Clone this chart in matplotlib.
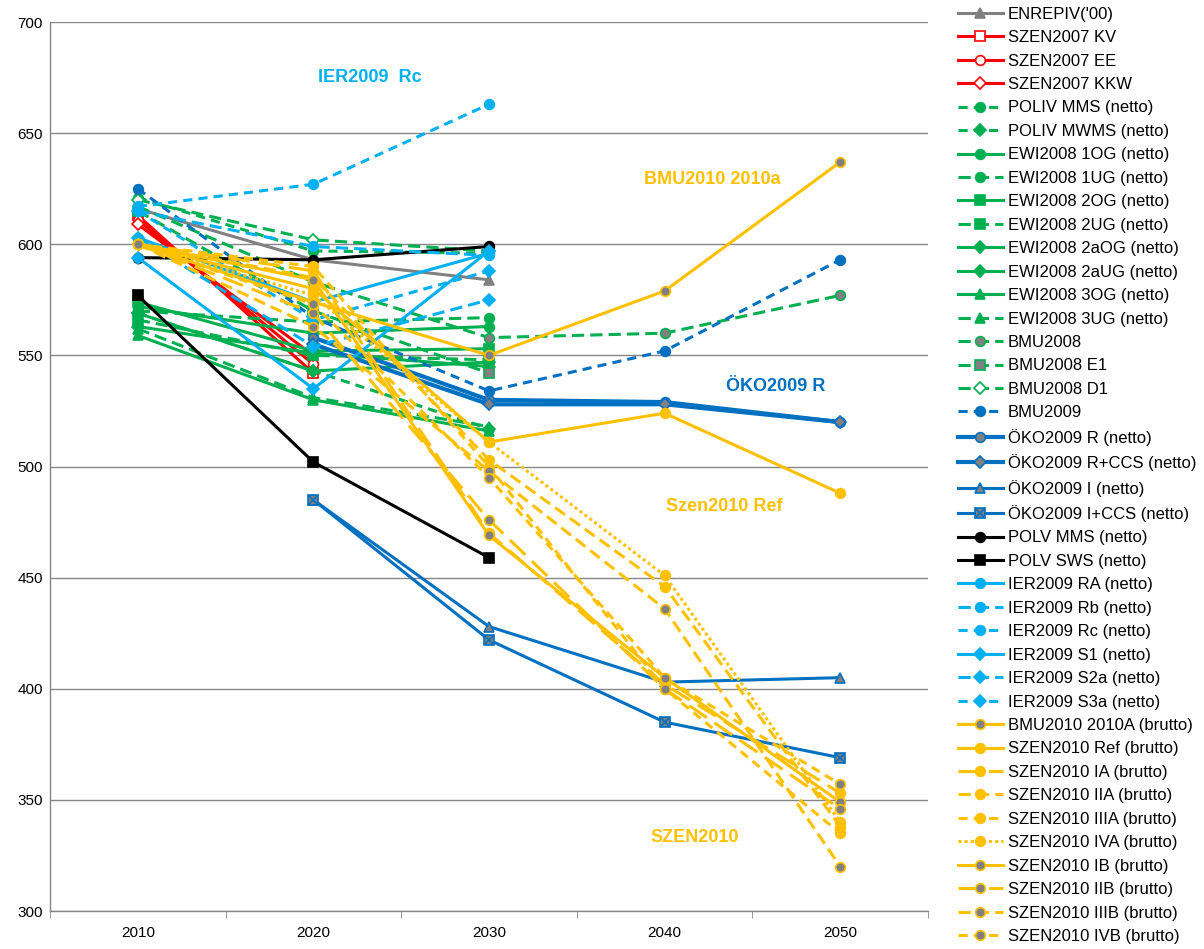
import numpy as np
import matplotlib
matplotlib.use("Agg")
import matplotlib.pyplot as plt

plt.rcParams['font.family'] = ['Liberation Sans', 'DejaVu Sans']

# ==========================================================
# DATA  (g CO2 / kWh)
# ==========================================================
years = ['2010', '2020', '2030', '2040', '2050']
nan = np.nan

enrepiv_00      = [616, 593, 584, nan, nan]
szen2007_kv     = [613, 542, nan, nan, nan]
szen2007_ee     = [611, 546, nan, nan, nan]
szen2007_kkw    = [609, 550, nan, nan, nan]
poliv_mms       = [621, 597, 596, nan, nan]
poliv_mwms      = [569, 543, 517, nan, nan]
ewi_1og         = [572, 560, 563, nan, nan]
ewi_1ug         = [570, 565, 567, nan, nan]
ewi_2og         = [574, 552, 553, nan, nan]
ewi_2ug         = [566, 550, 548, nan, nan]
ewi_2aog        = [569, 543, 547, nan, nan]
ewi_2aug        = [563, 551, 545, nan, nan]
ewi_3og         = [559, 530, 516, nan, nan]
ewi_3ug         = [562, 531, 518, nan, nan]
bmu2008         = [617, 583, 558, 560, 577]
bmu2008_e1      = [615, 570, 542, nan, nan]
bmu2008_d1      = [620, 602, 597, nan, nan]
bmu2009         = [625, 567, 534, 552, 593]
oeko_r          = [nan, 558, 530, 529, 520]
oeko_r_ccs      = [nan, 555, 528, 528, 520]
oeko_i          = [nan, 485, 428, 403, 405]
oeko_i_ccs      = [nan, 485, 422, 385, 369]
polv_mms        = [594, 593, 599, nan, nan]
polv_sws        = [577, 502, 459, nan, nan]
ier_ra          = [603, 574, 596, nan, nan]
ier_rb          = [615, 599, 595, nan, nan]
ier_rc          = [617, 627, 663, nan, nan]
ier_s1          = [594, 535, 597, nan, nan]
ier_s2a         = [603, 554, 575, nan, nan]
ier_s3a         = [615, 566, 588, nan, nan]
bmu2010_a       = [600, 574, 550, 579, 637]
szen2010_ref    = [600, 580, 511, 524, 488]
szen2010_ia     = [600, 588, 470, 402, 353]
szen2010_iia    = [600, 585, 503, 446, 338]
szen2010_iiia   = [600, 590, 500, 400, 335]
szen2010_iva    = [600, 577, 511, 451, 340]
szen2010_ib     = [600, 584, 469, 405, 349]
szen2010_iib    = [600, 569, 476, 400, 346]
szen2010_iiib   = [600, 563, 498, 436, 320]
szen2010_ivb    = [600, 573, 495, 405, 357]

# ==========================================================
# STYLES
# ==========================================================
GREY = '#808080'
RED = '#FF0000'
GREEN = '#00B050'
DBLUE = '#0070C0'
LBLUE = '#00B0F0'
YEL = '#FFC000'
BLACK = '#000000'

DASH = (4, 2)
SDASH = (3, 2)
LDASH = (7, 3)
DOT = (1, 1)

# label, data, color, dashes, marker, face, lw
series = [
    ("ENREPIV('00)", enrepiv_00, GREY, None, '^', GREY, 2.2),
    ("SZEN2007 KV", szen2007_kv, RED, None, 's', 'white', 2.2),
    ("SZEN2007 EE", szen2007_ee, RED, None, 'o', 'white', 2.2),
    ("SZEN2007 KKW", szen2007_kkw, RED, None, 'D', 'white', 2.2),
    ("POLIV MMS (netto)", poliv_mms, GREEN, SDASH, 'o', GREEN, 2.2),
    ("POLIV MWMS (netto)", poliv_mwms, GREEN, SDASH, 'D', GREEN, 2.2),
    ("EWI2008 1OG (netto)", ewi_1og, GREEN, None, 'o', GREEN, 2.2),
    ("EWI2008 1UG (netto)", ewi_1ug, GREEN, DASH, 'o', GREEN, 2.2),
    ("EWI2008 2OG (netto)", ewi_2og, GREEN, None, 's', GREEN, 2.2),
    ("EWI2008 2UG (netto)", ewi_2ug, GREEN, DASH, 's', GREEN, 2.2),
    ("EWI2008 2aOG (netto)", ewi_2aog, GREEN, None, 'D', GREEN, 2.2),
    ("EWI2008 2aUG (netto)", ewi_2aug, GREEN, None, 'D', GREEN, 2.2),
    ("EWI2008 3OG (netto)", ewi_3og, GREEN, None, '^', GREEN, 2.2),
    ("EWI2008 3UG (netto)", ewi_3ug, GREEN, DASH, '^', GREEN, 2.2),
    ("BMU2008", bmu2008, GREEN, DASH, 'o', GREY, 2.2),
    ("BMU2008 E1", bmu2008_e1, GREEN, DASH, 's', GREY, 2.2),
    ("BMU2008 D1", bmu2008_d1, GREEN, DASH, 'D', 'white', 2.2),
    ("BMU2009", bmu2009, DBLUE, SDASH, 'o', DBLUE, 2.2),
    ("ÖKO2009 R (netto)", oeko_r, DBLUE, None, 'o', GREY, 3.0),
    ("ÖKO2009 R+CCS (netto)", oeko_r_ccs, DBLUE, None, 'D', GREY, 3.0),
    ("ÖKO2009 I (netto)", oeko_i, DBLUE, None, '^', GREY, 2.2),
    ("ÖKO2009 I+CCS (netto)", oeko_i_ccs, DBLUE, None, 's', GREY, 2.2),
    ("POLV MMS (netto)", polv_mms, BLACK, None, 'o', BLACK, 2.2),
    ("POLV SWS (netto)", polv_sws, BLACK, None, 's', BLACK, 2.2),
    ("IER2009 RA (netto)", ier_ra, LBLUE, None, 'o', LBLUE, 2.2),
    ("IER2009 Rb (netto)", ier_rb, LBLUE, DASH, 'o', LBLUE, 2.2),
    ("IER2009 Rc (netto)", ier_rc, LBLUE, SDASH, 'o', LBLUE, 2.2),
    ("IER2009 S1 (netto)", ier_s1, LBLUE, None, 'D', LBLUE, 2.2),
    ("IER2009 S2a (netto)", ier_s2a, LBLUE, DASH, 'D', LBLUE, 2.2),
    ("IER2009 S3a (netto)", ier_s3a, LBLUE, SDASH, 'D', LBLUE, 2.2),
    ("BMU2010 2010A (brutto)", bmu2010_a, YEL, None, 'o', GREY, 2.2),
    ("SZEN2010 Ref (brutto)", szen2010_ref, YEL, None, 'o', YEL, 2.2),
    ("SZEN2010 IA (brutto)", szen2010_ia, YEL, LDASH, 'o', YEL, 2.2),
    ("SZEN2010 IIA (brutto)", szen2010_iia, YEL, DASH, 'o', YEL, 2.2),
    ("SZEN2010 IIIA (brutto)", szen2010_iiia, YEL, SDASH, 'o', YEL, 2.2),
    ("SZEN2010 IVA (brutto)", szen2010_iva, YEL, DOT, 'o', YEL, 2.2),
    ("SZEN2010 IB (brutto)", szen2010_ib, YEL, None, 'o', GREY, 2.2),
    ("SZEN2010 IIB (brutto)", szen2010_iib, YEL, LDASH, 'o', GREY, 2.2),
    ("SZEN2010 IIIB (brutto)", szen2010_iiib, YEL, DASH, 'o', GREY, 2.2),
    ("SZEN2010 IVB (brutto)", szen2010_ivb, YEL, SDASH, 'o', GREY, 2.2),
]

# ==========================================================
# PLOT
# ==========================================================
fig = plt.figure(figsize=(12.04, 9.49), dpi=100)
ax = fig.add_axes([0.0415, 0.04, 0.7293, 0.9368])

x = np.arange(len(years))
handles = []
for label, vals, col, dashes, mk, face, lw in series:
    y = np.array(vals, dtype=float)
    ms = 6 if mk == 'D' else 7
    kw = dict(color=col, lw=lw, marker=mk, markersize=ms,
              markerfacecolor=face, markeredgecolor=col, markeredgewidth=1.2)
    if dashes is None:
        line, = ax.plot(x, y, ls='-', **kw)
    else:
        line, = ax.plot(x, y, ls=(0, dashes), **kw)
    if label.startswith("ÖKO2009 I+CCS"):
        # cross on top of the grey square
        cross, = ax.plot(x, y, ls='none', marker='x', markersize=7,
                         color=col, markeredgewidth=1.2)
        handles.append((line, cross))
    else:
        handles.append(line)

ax.set_xlim(-0.5, len(years) - 0.5)
ax.set_ylim(300, 700)
ax.set_yticks(np.arange(300, 701, 50))
ax.set_xticks(x)
ax.set_xticklabels(years)
ax.set_xticks(np.arange(-0.5, len(years), 1.0), minor=True)
ax.tick_params(axis='x', which='major', length=0, labelsize=11, pad=11)
ax.tick_params(axis='x', which='minor', length=5, color='#868686', direction='out')
ax.tick_params(axis='y', length=0, labelsize=11, pad=5)
ax.grid(axis='y', color='#868686', lw=1)
ax.set_axisbelow(True)
for s in ['top', 'right']:
    ax.spines[s].set_visible(False)
for s in ['left', 'bottom']:
    ax.spines[s].set_color('#868686')
    ax.spines[s].set_linewidth(1)

# annotations
lab_kw = dict(fontsize=13, fontweight='bold', ha='center', va='center')
ax.text(1.32, 675, 'IER2009  Rc', color=LBLUE, **lab_kw)
ax.text(3.27, 629, 'BMU2010 2010a', color=YEL, **lab_kw)
ax.text(3.63, 536, 'ÖKO2009 R', color=DBLUE, **lab_kw)
ax.text(3.34, 482, 'Szen2010 Ref', color=YEL, **lab_kw)
ax.text(3.17, 333, 'SZEN2010', color=YEL, **lab_kw)

fig.legend(handles, [s[0] for s in series], loc='upper left',
           bbox_to_anchor=(0.790, 1.0), frameon=False, fontsize=12,
           handlelength=2.7, handletextpad=0.3, labelspacing=0.507,
           borderaxespad=0)

fig.savefig('out.png', dpi=100)
